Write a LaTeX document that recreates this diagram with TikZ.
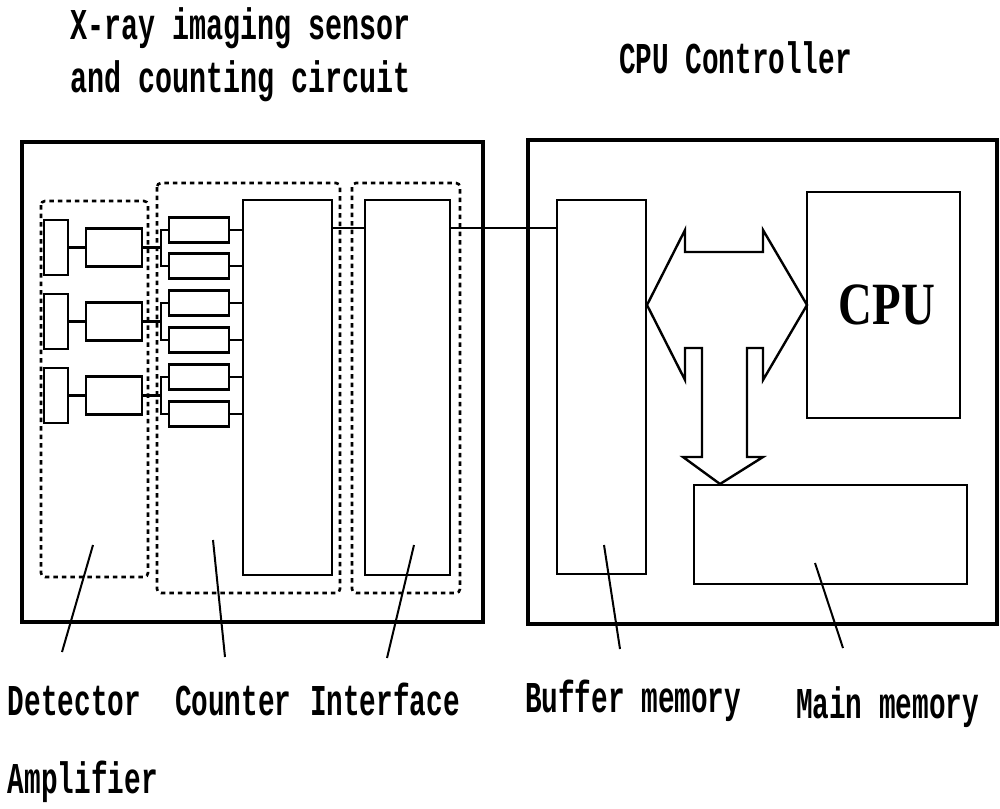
\documentclass[tikz,border=0pt]{standalone}
\usepackage{fontspec}
\newfontfamily\monofnt{Liberation Mono}
\newfontfamily\cpufnt{Liberation Serif}
\usetikzlibrary{calc}
\newcommand{\lbl}[2][0.63]{\scalebox{#1}[1]{\monofnt\bfseries\fontsize{44}{44}\selectfont #2}}
\begin{document}
\begin{tikzpicture}[x=1pt,y=-1pt,
  blk/.style={draw, line width=2.4pt, inner sep=0pt, outer sep=0pt},
  thinblk/.style={draw, line width=1.8pt, inner sep=0pt, outer sep=0pt},
  outer/.style={draw, line width=4.5pt},
  grp/.style={draw, line width=2.6pt, dash pattern=on 4.5pt off 4pt, rounded corners=4pt},
  wire/.style={line width=2.2pt},
  leader/.style={line width=2pt},
  txt/.style={anchor=base west, inner sep=0pt, outer sep=0pt}]
\useasboundingbox (0,0) rectangle (1000,808);

% outer boxes
\draw[outer] (22,142) rectangle (483,622);
\draw[outer] (528,140) rectangle (997,624);

% dashed groups
\draw[grp] (41,201) rectangle (148,577);
\draw[grp] (157,183) rectangle (340,593);
\draw[grp] (352,183) rectangle (460,593);

% detectors and amplifiers
\foreach \i/\y in {1/247.5,2/321.5,3/395.5}{
  \node[blk, minimum width=24pt, minimum height=55pt] (d\i) at (56,\y) {};
  \node[blk, minimum width=56pt, minimum height=38pt] (a\i) at (114,\y) {};
  \draw[wire] (d\i.east) -- (a\i.west);
}
% counters
\foreach \i/\y in {1/230,2/266,3/303,4/340,5/377,6/414}{
  \node[blk, minimum width=60pt, minimum height=25pt] (c\i) at (199,\y) {};
}
\node[blk, minimum width=89pt, minimum height=375pt] (cb) at (287.5,387.5) {};
\node[blk, minimum width=85pt, minimum height=375pt] (ci) at (407.5,387.5) {};
\node[thinblk, minimum width=89pt, minimum height=374pt] (bm) at (601.5,387) {};
\node[blk, minimum width=153pt, minimum height=226pt] (cpu) at (883.5,305) {};
\node[thinblk, minimum width=273pt, minimum height=99pt] (mm) at (830.5,534.5) {};

\foreach \i in {1,...,6}{
  \draw[wire] (c\i.east) -- (c\i.east -| cb.west);
}
% brackets amp -> counter pairs
\foreach \a/\p/\q in {1/1/2,2/3/4,3/5/6}{
  \coordinate (br\a) at (161,0);
  \draw[wire] (a\a.east) -- (a\a.east -| br\a);
  \draw[wire] (c\p.west) -- (c\p.west -| br\a) -- (c\q.west -| br\a) -- (c\q.west);
}
% bus
\coordinate (bus) at (0,228);
\draw[wire] (cb.east |- bus) -- (ci.west |- bus);
\draw[wire] (ci.east |- bus) -- (bm.west |- bus);

% arrows
\draw[line width=2.4pt, line join=miter]
  (647,305) -- (685,230) -- (685,252) -- (763,252) -- (763,230) -- (807,305)
  -- (763,380) -- (763,348) -- (747,348) -- (747,457) -- (763,457) -- (720,484)
  -- (683,457) -- (702,457) -- (702,348) -- (685,348) -- (685,380) -- cycle;

% CPU text
\node[inner sep=0pt] (cputxt) at (887,305) {\scalebox{0.78}[1]{\cpufnt\bfseries\fontsize{60}{60}\selectfont CPU}};

% titles
\node[txt] (t1) at (70,40) {\lbl[0.645]{X-ray imaging sensor}};
\node[txt] (t2) at (70,92) {\lbl[0.645]{and counting circuit}};
\node[txt] (t3) at (619,73) {\lbl{CPU Controller}};

% labels
\node[txt] (l1) at (8,715) {\lbl{Detector}};
\node[txt] (l2) at (175,715) {\lbl{Counter}};
\node[txt] (l3) at (310,715) {\lbl{Interface}};
\node[txt] (l4) at (8,793) {\lbl{Amplifier}};
\node[txt] (l5) at (525,712) {\lbl{Buffer memory}};
\node[txt] (l6) at (796,718) {\lbl{Main memory}};

% leaders
\coordinate (p1a) at (93,545); \coordinate (p1b) at (62,652);
\coordinate (p2a) at (213,540); \coordinate (p2b) at (225,657);
\coordinate (p3a) at (414,545); \coordinate (p3b) at (387,658);
\coordinate (p4a) at (604,545); \coordinate (p4b) at (620,649);
\coordinate (p5a) at (815,563); \coordinate (p5b) at (843,648);
\foreach \k in {1,...,5}{ \draw[leader] (p\k a) -- (p\k b); }
\end{tikzpicture}
\end{document}
